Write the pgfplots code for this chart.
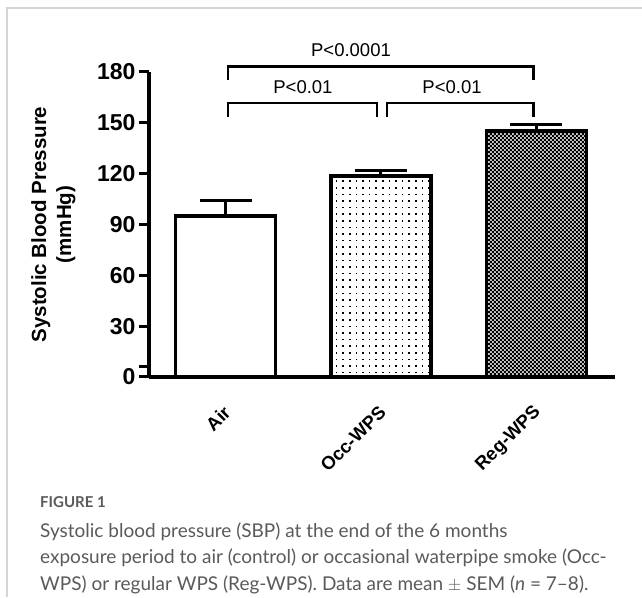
\documentclass[border=0pt]{standalone}
\usepackage{fontspec}
\setmainfont{Liberation Sans}
\newfontfamily\capfont{Lato}
\usepackage{pgfplots}
\pgfplotsset{compat=1.18}
\usetikzlibrary{patterns}

\definecolor{capgray}{HTML}{5A5A5A}
\definecolor{framegray}{HTML}{D5D5D5}

% sparse dots for Occ-WPS, checkerboard for Reg-WPS
\pgfdeclarepatternformonly{sparsedots}{\pgfqpoint{-1pt}{-1pt}}{\pgfqpoint{1pt}{1pt}}{\pgfqpoint{6.6pt}{6.6pt}}{%
  \pgfpathrectangle{\pgfqpoint{-0.75pt}{-0.75pt}}{\pgfqpoint{1.5pt}{1.5pt}}\pgfusepath{fill}}
\pgfdeclarepatternformonly{finechecker}{\pgfqpoint{0pt}{0pt}}{\pgfqpoint{4.4pt}{4.4pt}}{\pgfqpoint{4.4pt}{4.4pt}}{%
  \pgfpathrectangle{\pgfqpoint{0pt}{0pt}}{\pgfqpoint{2.2pt}{2.2pt}}%
  \pgfpathrectangle{\pgfqpoint{2.2pt}{2.2pt}}{\pgfqpoint{2.2pt}{2.2pt}}\pgfusepath{fill}}

\pgfplotsset{sem/.style={error bars/.cd, y dir=plus, y explicit,
    error bar style={line width=3pt, black},
    error mark options={rotate=90, line width=3pt, mark size=26pt, black}}}

\begin{document}
\begin{tikzpicture}
  \useasboundingbox (0pt,0pt) rectangle (642pt,597pt);
  \draw[line width=1.2pt, framegray] (7pt,0pt) -- (7pt,589pt) -- (642pt,589pt);

  \begin{axis}[
    at={(225.5pt,220pt)}, anchor=origin,
    scale only axis, width=466pt, height=305pt,
    xmin=-0.492, xmax=2.505, ymin=0, ymax=180,
    axis lines*=left,
    axis line style={line width=3.8pt},
    clip=false,
    ybar, bar width=100pt, bar shift=0pt,
    ytick={0,30,...,180},
    extra y ticks={6}, extra y tick labels={},
    tick align=outside, major tick length=10pt,
    y tick style={line width=3pt, black},
    /pgf/number format/assume math mode=true,
    yticklabel style={font=\bfseries\fontsize{23}{23}\selectfont},
    xtick={0,1,2},
    xticklabels={Air,Occ-WPS,Reg-WPS},
    x tick style={draw=none},
    xticklabel style={font=\bfseries\fontsize{18.5}{18.5}\selectfont, yshift=-20pt, xshift=4pt, rotate=45, anchor=east},
    ylabel={Systolic Blood Pressure\\(mmHg)},
    ylabel style={align=center, font=\bfseries\fontsize{20.5}{25}\selectfont,
      at={(axis description cs:-0.205,0.5)}, anchor=center},
  ]
    \addplot[draw=black, line width=3.8pt, fill=white, sem]
      coordinates {(0,95) +- (0,9)};
    \addplot[draw=black, line width=3.8pt, fill=white,
      postaction={pattern=sparsedots, pattern color=black}, sem]
      coordinates {(1,118.5) +- (0,3.5)};
    \addplot[draw=black, line width=3.8pt, fill=black!22,
      postaction={pattern=finechecker, pattern color=black}, sem]
      coordinates {(2,145) +- (0,4)};

    % significance brackets
    \draw[line width=2.5pt] (axis cs:0.016,175.3) |- (axis cs:1.98,183.3) -- (axis cs:1.98,175.3);
    \draw[line width=2.5pt] (axis cs:0.016,153.5) |- (axis cs:0.974,161.7) -- (axis cs:0.974,153.5);
    \draw[line width=2.5pt] (axis cs:1.04,153.5) |- (axis cs:1.98,161.7) -- (axis cs:1.98,153.5);
    \node[font=\fontsize{18.5}{18.5}\selectfont] at (axis cs:0.807,193) {P<0.0001};
    \node[font=\fontsize{18.5}{18.5}\selectfont] at (axis cs:0.498,171) {P<0.01};
    \node[font=\fontsize{18.5}{18.5}\selectfont] at (axis cs:1.457,171) {P<0.01};
  \end{axis}

  % caption
  \begin{scope}[every node/.style={anchor=base west, inner sep=0pt, text=capgray}]
    \node[font=\capfont\bfseries\fontsize{15}{15}\selectfont] at (40pt,90pt) {FIGURE 1};
    \node[font=\capfont\fontsize{19}{20}\selectfont] at (40pt,60pt) {Systolic blood pressure (SBP) at the end of the 6 months};
    \node[font=\capfont\fontsize{19}{20}\selectfont] at (40pt,33.5pt) {exposure period to air (control) or occasional waterpipe smoke (Occ-};
    \node[font=\capfont\fontsize{19}{20}\selectfont] at (40pt,7pt) {WPS) or regular WPS (Reg-WPS). Data are mean $\pm$ SEM (\textit{n} = 7–8).};
  \end{scope}
\end{tikzpicture}
\end{document}
